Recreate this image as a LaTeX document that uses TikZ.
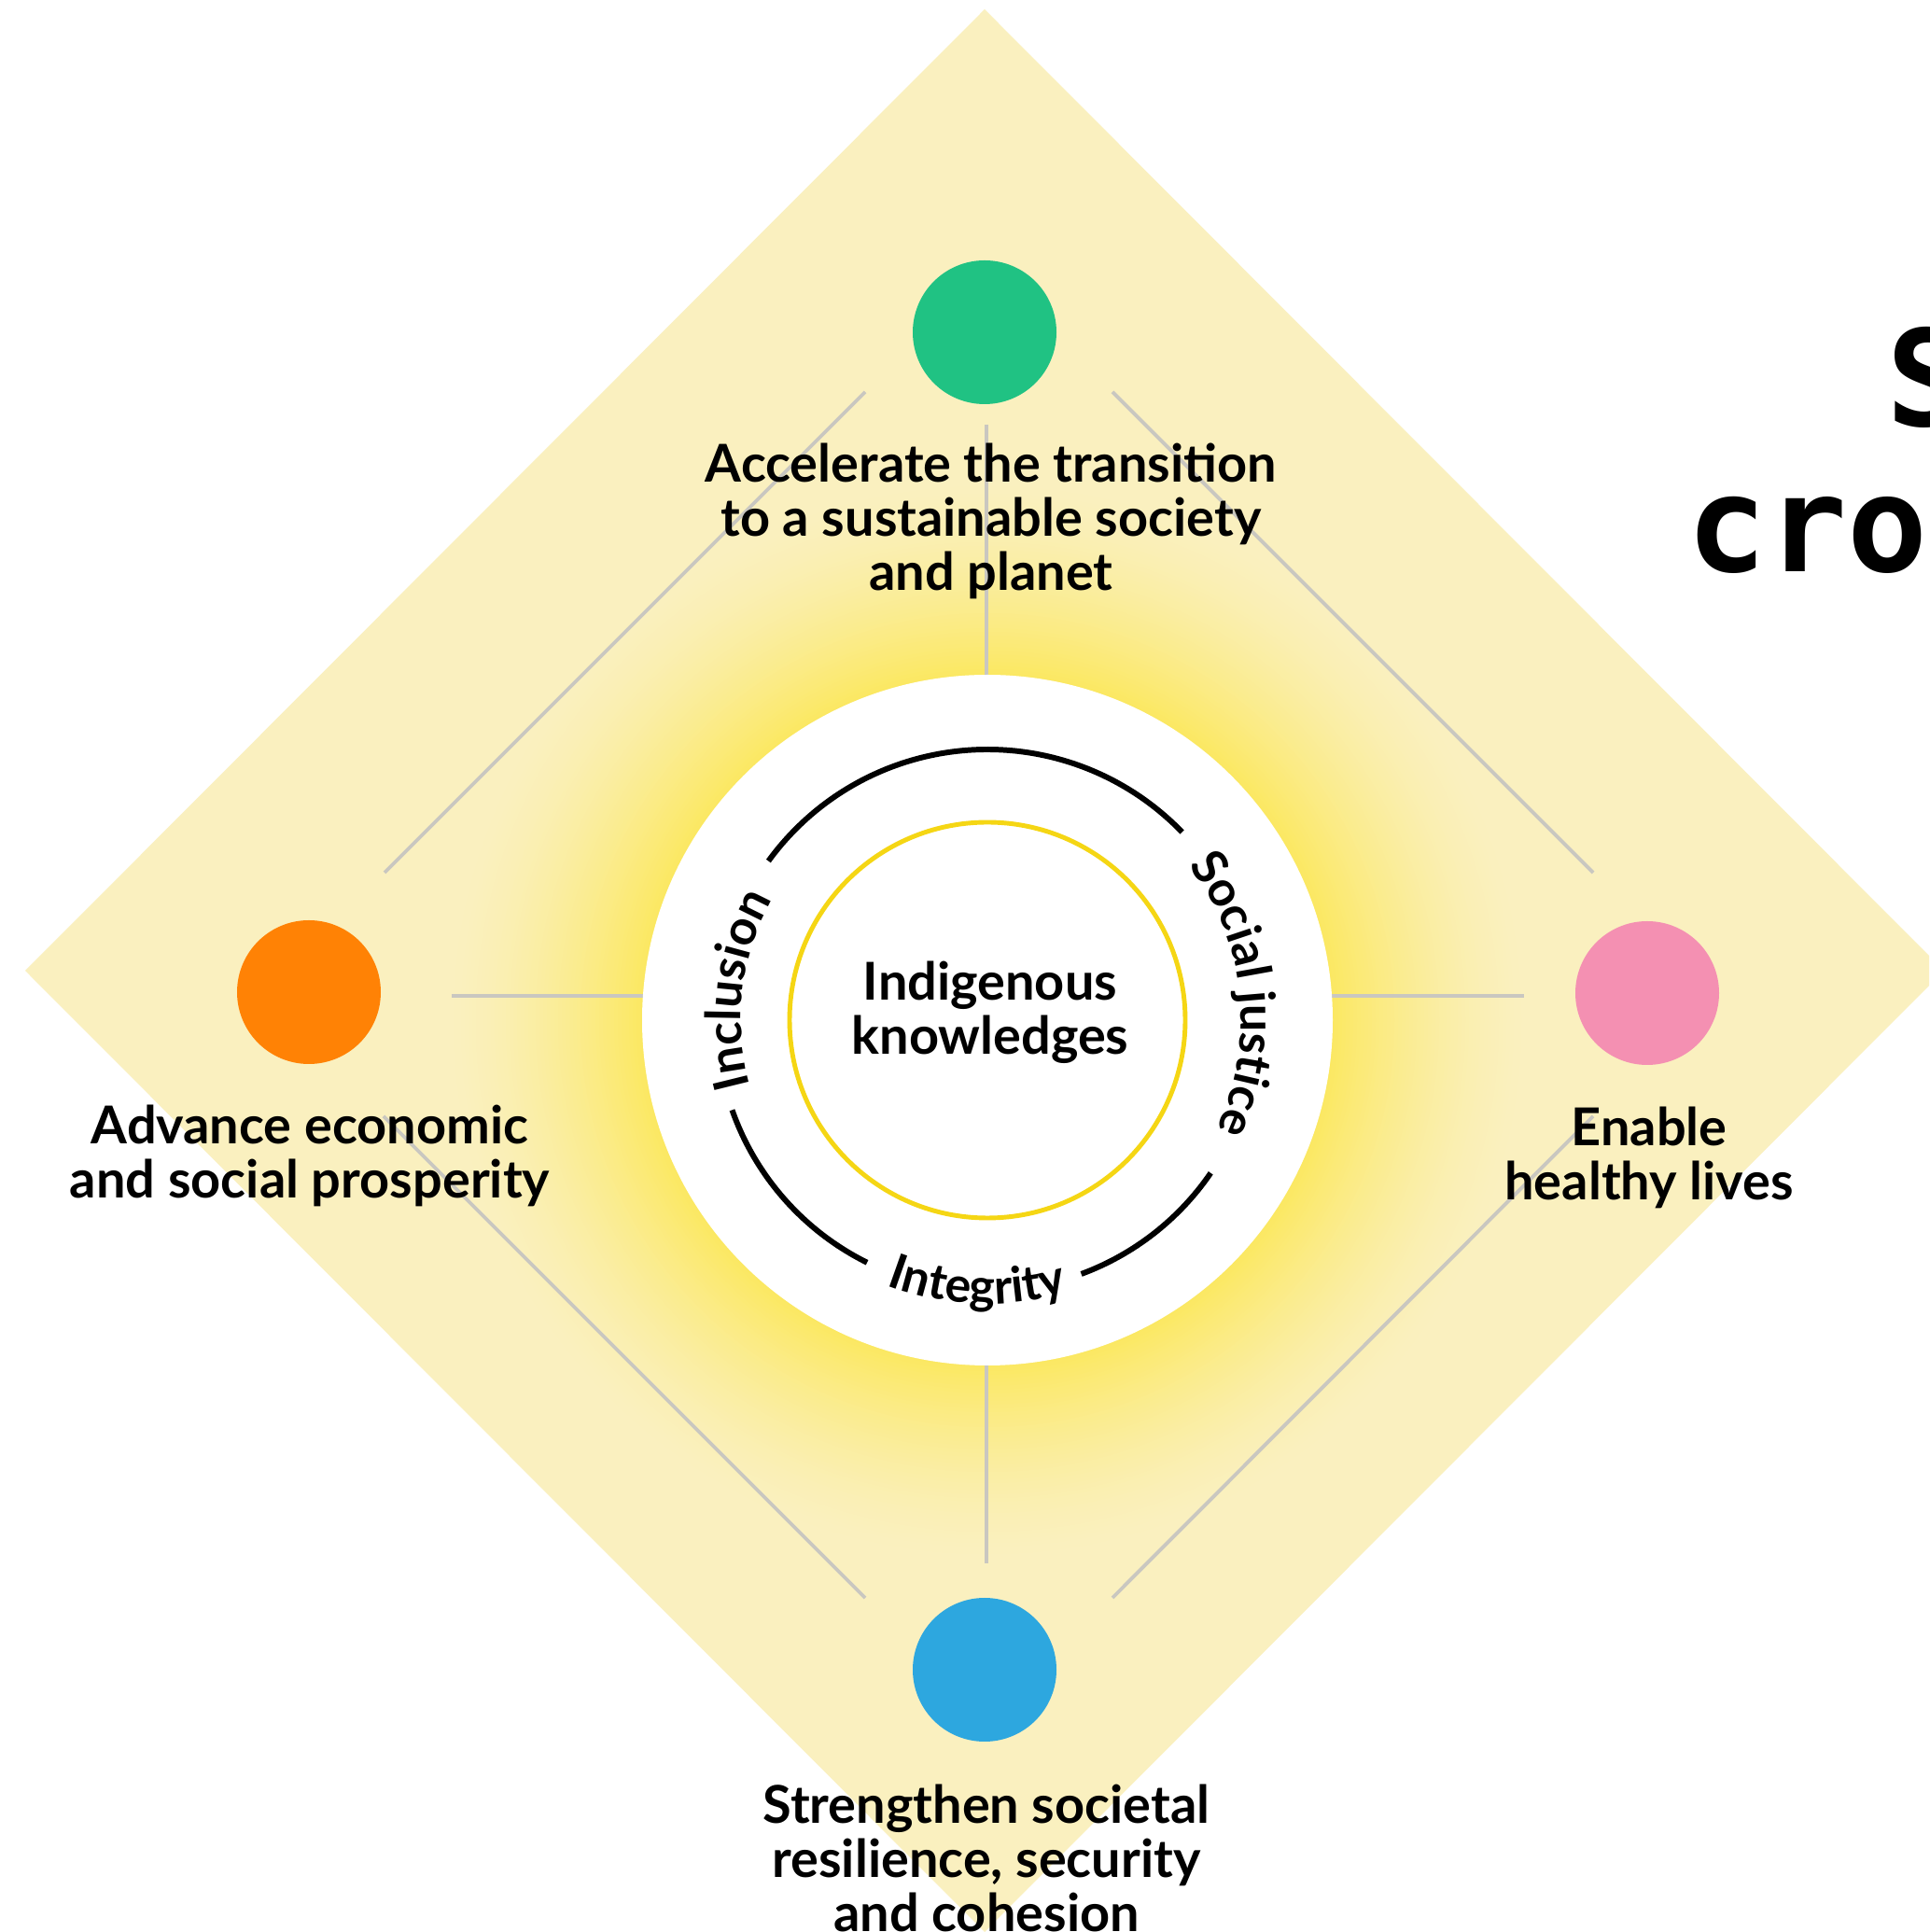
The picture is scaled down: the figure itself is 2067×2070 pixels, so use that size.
\documentclass[tikz,border=0pt]{standalone}
\usepackage{fontspec}
\setmainfont{Lato}
\newfontfamily\monofnt{DejaVu Sans Mono}
\usetikzlibrary{decorations.text,calc}
\definecolor{dia}{HTML}{FAF0BF}
\definecolor{glowy}{HTML}{FBE862}
\definecolor{ringy}{HTML}{F5D614}
\definecolor{greyln}{HTML}{C9C7C0}
\definecolor{cgreen}{HTML}{20C283}
\definecolor{corange}{HTML}{FF8205}
\definecolor{cpink}{HTML}{F490B2}
\definecolor{cblue}{HTML}{2DA7DF}
\newcommand\arcfnt{\fontsize{14.8}{16}\selectfont\bfseries}
\begin{document}
\begin{tikzpicture}[x=0.1mm,y=0.1mm,
  lbl/.style={font=\fontsize{15.9}{16.5}\selectfont\bfseries, align=center, inner sep=0pt, text=black},
  dot/.style={circle, minimum size=15.4mm, inner sep=0pt, draw=none},
  gline/.style={draw=greyln, line width=1.1pt},
  ringarc/.style={draw=black, line width=1.7pt},
  ttl/.style={font=\monofnt\bfseries\fontsize{40.7}{44}\selectfont, anchor=base west, inner sep=0pt}
]
\path[use as bounding box, fill=white] (0,0) rectangle (2067,2070);
\clip (0,0) rectangle (2067,2070);
\coordinate (C) at (1058,977);
\coordinate (O) at (1057,1003);
% diamond
\fill[dia] (1055,2060) -- (27,1030) -- (1055,0) -- (2083,1030) -- cycle;
% glow
\foreach \r in {580,576,...,372}{
  \pgfmathsetmacro\t{(580-\r)/208}
  \pgfmathsetmacro\p{100*\t*sqrt(\t)}
  \pgfmathsetmacro\rr{\r/10}
  \fill[glowy!\p!dia] (C) circle[radius=\rr mm];
}
% grey lines
\coordinate (ulA) at (412,1135); \coordinate (ulB) at (927,1650);
\coordinate (urA) at (1192,1650); \coordinate (urB) at (1707,1135);
\coordinate (llA) at (411,874); \coordinate (llB) at (927,358);
\coordinate (lrA) at (1192,358); \coordinate (lrB) at (1707,874);
\coordinate (hl) at (484,1003); \coordinate (hr) at (1633,1003);
\coordinate (vt) at (1057,1615); \coordinate (vb) at (1057,395);
\draw[gline] (ulA) -- (ulB);
\draw[gline] (urA) -- (urB);
\draw[gline] (llA) -- (llB);
\draw[gline] (lrA) -- (lrB);
\draw[gline] (hl) -- (O) -- (hr);
\draw[gline] (vt) -- (O) -- (vb);
% white disc and rings
\node[circle, fill=white, minimum size=74mm, inner sep=0pt] (wc) at (C) {};
\draw[ringy, line width=1.4pt] (C) circle[radius=21.2mm];
\draw[ringarc] ($(C)+(44:29mm)$) arc[start angle=44, end angle=144, radius=29mm];
\draw[ringarc] ($(C)+(-34.4:29mm)$) arc[start angle=-34.4, end angle=-69.7, radius=29mm];
\draw[ringarc] ($(C)+(-116.4:29mm)$) arc[start angle=-116.4, end angle=-160.6, radius=29mm];
% arc labels
\path[decorate, decoration={text along path, text align=center, text={|\arcfnt|Inclusion}}]
  ($(C)+(203:26.4mm)$) arc[start angle=203, end angle=143, radius=26.4mm];
\path[decorate, decoration={text along path, text align=center, text={|\arcfnt|Social justice}}]
  ($(C)+(56:27.2mm)$) arc[start angle=56, end angle=-44, radius=27.2mm];
\path[decorate, decoration={text along path, text align=center, text={|\arcfnt|Integrity}}]
  ($(C)+(-122.2:30.4mm)$) arc[start angle=-122.2, end angle=-62.2, radius=30.4mm];
% coloured dots
\node[dot, fill=cgreen] (g) at (1055,1714) {};
\node[dot, fill=corange] (o) at (331,1007) {};
\node[dot, fill=cpink] (p) at (1765,1006) {};
\node[dot, fill=cblue] (b) at (1055,281) {};
% labels
\node[lbl] (tg) at (1062,1512) {Accelerate the transition\\to a sustainable society\\and planet};
\node[lbl] (to) at (332,832) {Advance economic\\and social prosperity};
\node[lbl] (tp) at (1767,830) {Enable\\healthy lives};
\node[lbl] (tb) at (1057,79) {Strengthen societal\\resilience, security\\and cohesion};
\node[lbl] (tc) at (1061,985) {Indigenous\\knowledges};
% title fragments
\node[ttl] (t1) at (2021,1613) {S};
\node[ttl] (t2) at (1807,1457) {cro};
\end{tikzpicture}
\end{document}
